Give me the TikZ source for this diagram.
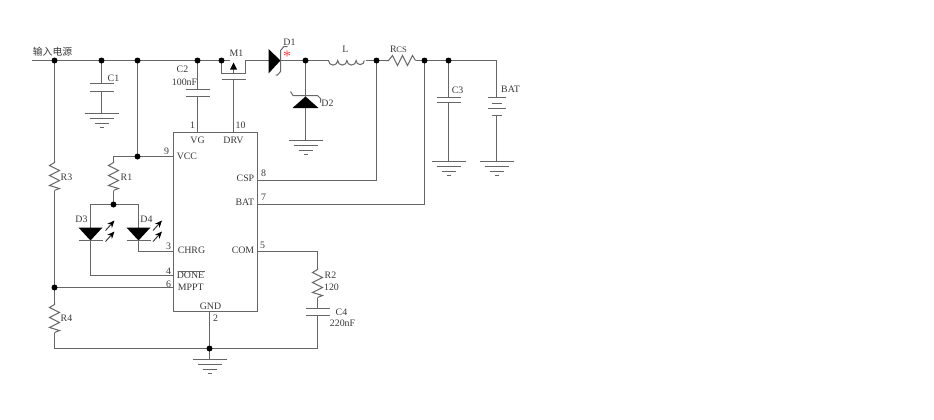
\documentclass[tikz,border=0pt]{standalone}
\usepackage{fontspec}
\setmainfont{Liberation Serif}
\newfontfamily\cjk{Noto Sans CJK SC}
\usetikzlibrary{arrows.meta}
\definecolor{wire}{gray}{0.4}
\definecolor{txt}{gray}{0.22}
\tikzset{
  x=0.75pt,y=-0.75pt,
  wirel/.style={draw=wire,line width=0.75pt,line join=miter},
  dot/.style={circle,fill=black,draw=none,inner sep=0pt,minimum size=4.5pt},
  lbl/.style={text=txt,font=\fontsize{7.4pt}{8pt}\selectfont,inner sep=0pt,anchor=center},
  solid/.style={fill=black,draw=none},
  gnd/.pic={\draw[wirel] (-17,0)--(17,0) (-12,5)--(12,5) (-7,10)--(7,10) (-2,14)--(2,14);},
  vres/.pic={\draw[wirel] (0,0)--(0,2)--(-5,5)--(5,10)--(-5,15)--(5,20)--(-5,25)--(5,28)--(0,30);},
  hres/.pic={\draw[wirel] (0,0)--(3,0)--(7,-5)--(12,5)--(17,-5)--(22,5)--(27,-5)--(30,0);},
  ledarrows/.pic={\draw[draw=black!80,line width=0.7pt,-{Stealth[length=5.5pt,width=4.6pt,black]}] (0,10)--(9,0);\draw[draw=black!80,line width=0.7pt,-{Stealth[length=5.5pt,width=4.6pt,black]}] (0,21)--(9,11);},
}
\begin{document}
\begin{tikzpicture}
\useasboundingbox (-0.5,-0.5) rectangle (933.5,418.5);
% --- IC body
\node[draw=wire,line width=0.75pt,minimum width=63pt,minimum height=134.25pt,inner sep=0pt,anchor=north west,outer sep=0pt] (ic) at (173,132) {};
% --- named points
\foreach \n/\x/\y in {in/31/60,ja/54/60,jb/101/60,jc/137/60,jd/197/60,je/221/60,
  mr/229/60,ms/221/73,md/245/73,mdt/245/60,gl/221/79,gr/245/79,gc/233/79,pdrv/233/132,
  ma/233/73,mtip/233/62,
  da/268/60,dk/280/60,jf/305/60,ll/328/60,lr/365/60,jg/376/60,rl/385/60,rr/415/60,jh/424/60,ji/448/60,rt/496/60,
  rtb/496/97,
  c1a/101/83,c1b/101/91,g1/101/113,
  c2a/197/89,c2b/197/96,pvg/197/132,
  d2k/305/96,d2a/305/107,g2/305/140,
  c3a/448/97,c3b/448/102,g3/448/161,
  b4/496/115,g4/496/161,
  pcspw/376/180,pcsp/257/180,pbatw/424/204,pbat/257/204,
  r3t/54/160,r3b/54/190,jm/54/287,r4t/54/302,r4b/54/332,blc/54/348,
  jn/209/348,pgnd/209/311,g5/209/359,brc/317/348,
  r1t/113/160,r1b/113/190,v1/113/156,jv/137/156,pvcc/173/156,jl/113/204,
  d3t/90/204,d4t/138/204,d3a/90/227,d3k/90/239,d4a/138/227,d4k/138/239,
  d3c/90/275,d4c/138/251,pdone/173/275,pchrg/173/251,pmppt/173/287,
  pcom/257/251,comc/317/251,r2t/317/267,r2b/317/297,c4a/317/308,c4b/317/315}
  {\coordinate (\n) at (\x,\y);}
% --- top rail
\draw[wirel] (in)--(mr);
\draw[wirel] (je)--(ms)--(md)--(mdt)--(da);
\draw[wirel] (gl)--(gr);
\draw[wirel] (gc)--(pdrv);
\draw[wirel] (ma)--(mtip);
\fill[solid] (233,62)--(229.5,69)--(236.5,69)--cycle;
\draw[wirel] (dk)--(ll);
\draw[wirel] (lr)--(rl) (rr)--(rt)--(rtb);
% --- D1
\fill[solid] (268,48.5)--(268,73)--(280,60)--cycle;
\draw[wirel] (287,46)--(283.5,46)--(280,50)--(280,71)--(277,74.5)--(275,74.5);
% --- inductor
\draw[wirel] (ll) arc[start angle=180,end angle=0,radius=4.6]
  arc[start angle=180,end angle=0,radius=4.6]
  arc[start angle=180,end angle=0,radius=4.6]
  arc[start angle=180,end angle=0,radius=4.1];
% --- Rcs
\pic at (rl) {hres};
% --- C1
\draw[wirel] (jb)--(c1a) (c1b)--(g1);
\draw[wirel] (89,83)--(113,83) (89,91)--(113,91);
\pic at (g1) {gnd};
% --- C2
\draw[wirel] (jd)--(c2a) (c2b)--(pvg);
\draw[wirel] (185,89)--(209,89) (185,96)--(209,96);
% --- D2
\draw[wirel] (jf)--(g2);
\fill[solid] (305,96)--(292,107.5)--(318,107.5)--cycle;
\draw[wirel] (290,91)--(292.5,95)--(317,95)--(320,98)--(320,102);
\pic at (g2) {gnd};
% --- C3
\draw[wirel] (ji)--(c3a) (c3b)--(g3);
\draw[wirel] (436,97)--(460,97) (436,102)--(460,102);
\pic at (g3) {gnd};
% --- battery
\draw[wirel] (487,97)--(505,97) (491,103)--(501,103) (487,108)--(505,108) (491,115)--(501,115);
\draw[wirel] (b4)--(g4);
\pic at (g4) {gnd};
% --- CSP / BAT
\draw[wirel] (jg)--(pcspw)--(pcsp);
\draw[wirel] (jh)--(pbatw)--(pbat);
% --- R3 / R4 and bottom
\draw[wirel] (ja)--(r3t) (r3b)--(r4t) (r4b)--(blc)--(brc)--(c4b);
\pic at (r3t) {vres};
\pic at (r4t) {vres};
\draw[wirel] (jm)--(pmppt);
\draw[wirel] (pgnd)--(g5);
\pic at (g5) {gnd};
% --- VCC, R1, LEDs
\draw[wirel] (jc)--(jv);
\draw[wirel] (r1t)--(v1)--(pvcc);
\pic at (r1t) {vres};
\draw[wirel] (r1b)--(jl);
\draw[wirel] (d3a)--(d3t)--(d4t)--(d4a);
\draw[wirel] (d3k)--(d3c)--(pdone);
\draw[wirel] (d4k)--(d4c)--(pchrg);
\fill[solid] (78,227)--(102,227)--(90,240)--cycle;
\fill[solid] (126,227)--(150,227)--(138,240)--cycle;
\draw[wirel] (78,240)--(102,240) (126,240)--(150,240);
\pic at (105,220) {ledarrows};
\pic at (152.5,220) {ledarrows};
% --- COM, R2, C4
\draw[wirel] (pcom)--(comc)--(r2t);
\pic at (r2t) {vres};
\draw[wirel] (r2b)--(c4a);
\draw[wirel] (305,308)--(329,308) (305,315)--(329,315);
% --- junction dots
\foreach \n in {ja,jb,jc,jd,je,jf,jg,jh,ji,jm,jn,jv,jl}
  \node[dot] at (\n) {};
% --- labels
\node[lbl,font=\cjk\fontsize{7.4pt}{8pt}\selectfont] (tin) at (52,51) {输入电源};
\node[lbl] (tc1) at (113,78) {C1};
\node[lbl] (tc2) at (182,69) {C2};
\node[lbl] (tc2v) at (184,82) {100nF};
\node[lbl] (tm1) at (236,53) {M1};
\node[lbl] (td1) at (289,42) {D1};
\node[text=red!75,inner sep=0pt,font=\fontsize{12pt}{12pt}\selectfont] (star) at (286.5,55.5) {*};
\node[lbl] (tl) at (345,49) {L};
\node[lbl] (trcs) at (398,49) {R\kern-0.3pt{\fontsize{6.4pt}{7pt}\selectfont CS}};
\node[lbl] (td2) at (327,103) {D2};
\node[lbl] (tc3) at (457,90) {C3};
\node[lbl] (tbat) at (510,89) {BAT};
\node[lbl] (tr3) at (66,177) {R3};
\node[lbl] (tr4) at (66,318) {R4};
\node[lbl] (tr1) at (126,177) {R1};
\node[lbl] (td3) at (81,219) {D3};
\node[lbl] (td4) at (146,219) {D4};
\node[lbl] (p1) at (192,125) {1};
\node[lbl] (p10) at (240,125) {10};
\node[lbl] (tvg) at (197,140) {VG};
\node[lbl] (tdrv) at (233,140) {DRV};
\node[lbl] (p9) at (166,151) {9};
\node[lbl,anchor=west] (tvcc) at (176,156) {VCC};
\node[lbl] (p3) at (168,246) {3};
\node[lbl,anchor=west] (tchrg) at (177,250) {CHRG};
\node[lbl] (p4) at (168,271) {4};
\node[lbl,anchor=west] (tdone) at (176,275) {DONE};
\draw[draw=wire,line width=0.6pt] (177,270.5)--(204,270.5);
\node[lbl] (p6) at (168,284) {6};
\node[lbl,anchor=west] (tmppt) at (177,287) {MPPT};
\node[lbl,anchor=east] (tcsp) at (254,178) {CSP};
\node[lbl] (p8) at (263,173) {8};
\node[lbl,anchor=east] (tbatp) at (254,202) {BAT};
\node[lbl] (p7) at (263,197) {7};
\node[lbl,anchor=east] (tcom) at (254,250) {COM};
\node[lbl] (p5) at (262,245) {5};
\node[lbl] (tgnd) at (210,306) {GND};
\node[lbl] (p2) at (215,318) {2};
\node[lbl] (tr2) at (330,275) {R2};
\node[lbl] (tr2v) at (331,287) {120};
\node[lbl] (tc4) at (341,312) {C4};
\node[lbl] (tc4v) at (342,323) {220nF};
\end{tikzpicture}
\end{document}
